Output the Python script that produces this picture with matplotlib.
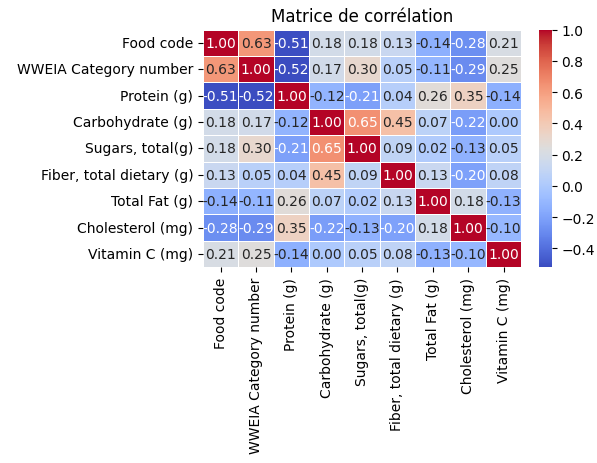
import numpy as np
import matplotlib
matplotlib.use("Agg")
import matplotlib.pyplot as plt
import seaborn as sns

labels = ["Food code", "WWEIA Category number", "Protein (g)", "Carbohydrate (g)",
          "Sugars, total(g)", "Fiber, total dietary (g)", "Total Fat (g)",
          "Cholesterol (mg)", "Vitamin C (mg)"]

corr = [
    [1.00, 0.63, -0.51, 0.18, 0.18, 0.13, -0.14, -0.28, 0.21],
    [0.63, 1.00, -0.52, 0.17, 0.30, 0.05, -0.11, -0.29, 0.25],
    [-0.51, -0.52, 1.00, -0.12, -0.21, 0.04, 0.26, 0.35, -0.14],
    [0.18, 0.17, -0.12, 1.00, 0.65, 0.45, 0.07, -0.22, 0.00],
    [0.18, 0.30, -0.21, 0.65, 1.00, 0.09, 0.02, -0.13, 0.05],
    [0.13, 0.05, 0.04, 0.45, 0.09, 1.00, 0.13, -0.20, 0.08],
    [-0.14, -0.11, 0.26, 0.07, 0.02, 0.13, 1.00, 0.18, -0.13],
    [-0.28, -0.29, 0.35, -0.22, -0.13, -0.20, 0.18, 1.00, -0.10],
    [0.21, 0.25, -0.14, 0.00, 0.05, 0.08, -0.13, -0.10, 1.00],
]
corr = np.array(corr)

fig = plt.figure(figsize=(5.97, 4.64), dpi=100)
ax = fig.add_axes([0.340, 0.422, 0.533, 0.512])
cax = fig.add_axes([0.9034, 0.422, 0.0208, 0.512])

sns.heatmap(corr, annot=True, fmt=".2f", cmap="coolwarm", linewidths=0.5,
            xticklabels=labels, yticklabels=labels, ax=ax, cbar_ax=cax)
ax.set_title("Matrice de corrélation")
plt.setp(ax.get_xticklabels(), rotation=90)
plt.setp(ax.get_yticklabels(), rotation=0)

fig.savefig("out.png", dpi=100)
